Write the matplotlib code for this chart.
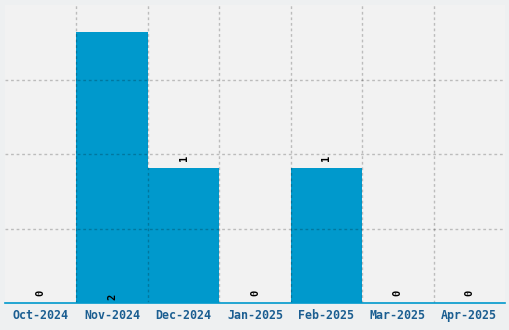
import matplotlib
matplotlib.use("Agg")
import matplotlib.pyplot as plt
import numpy as np

months = ["Oct-2024", "Nov-2024", "Dec-2024", "Jan-2025", "Feb-2025", "Mar-2025", "Apr-2025"]
counts = [0, 2, 1, 0, 1, 0, 0]

fig = plt.figure(figsize=(5.1, 3.3), dpi=100, facecolor="#eef0f1")
ax = fig.add_axes([5 / 510, 27 / 330, 500 / 510, 298 / 330])
ax.set_facecolor("#f2f2f2")

x = np.arange(len(months))
ax.bar(x, counts, width=1.0, color="#0099cc", zorder=2)

ax.set_xlim(-0.5, len(months) - 0.5)
ax.set_ylim(0, 2.2)
ax.set_yticks([0.55, 1.1, 1.65])
# grid lines sit on the boundaries between months
ax.set_xticks(x[:-1] + 0.5, minor=True)
ax.set_xticks(x)
ax.set_xticklabels(months, family="DejaVu Sans Mono", fontweight="bold",
                   fontsize=8.4, color="#1b5e91")
ax.tick_params(axis="both", which="both", length=0)
ax.tick_params(axis="x", pad=4)
ax.set_yticklabels([])
ax.grid(False)
ax.grid(True, which="minor", axis="x", color="black", alpha=0.22,
        linestyle=(0, (2, 2)), linewidth=1, zorder=3)
ax.grid(True, which="major", axis="y", color="black", alpha=0.22,
        linestyle=(0, (2, 2)), linewidth=1, zorder=3)
ax.set_axisbelow(False)

for s in ["top", "left", "right"]:
    ax.spines[s].set_visible(False)
ax.spines["bottom"].set_color("#0099cc")
ax.spines["bottom"].set_linewidth(1.2)
ax.spines["bottom"].set_zorder(4)

top = max(counts)
for xi, c in zip(x, counts):
    # the tallest bar gets its label inside, at the base
    ypos = 0.02 if c == top else c + 0.05
    ax.text(xi, ypos, str(c), rotation=90, ha="center", va="bottom",
            family="DejaVu Sans Mono", fontweight="bold", fontsize=7.5,
            color="black", zorder=5)

fig.savefig("out.png", dpi=100, facecolor=fig.get_facecolor())
